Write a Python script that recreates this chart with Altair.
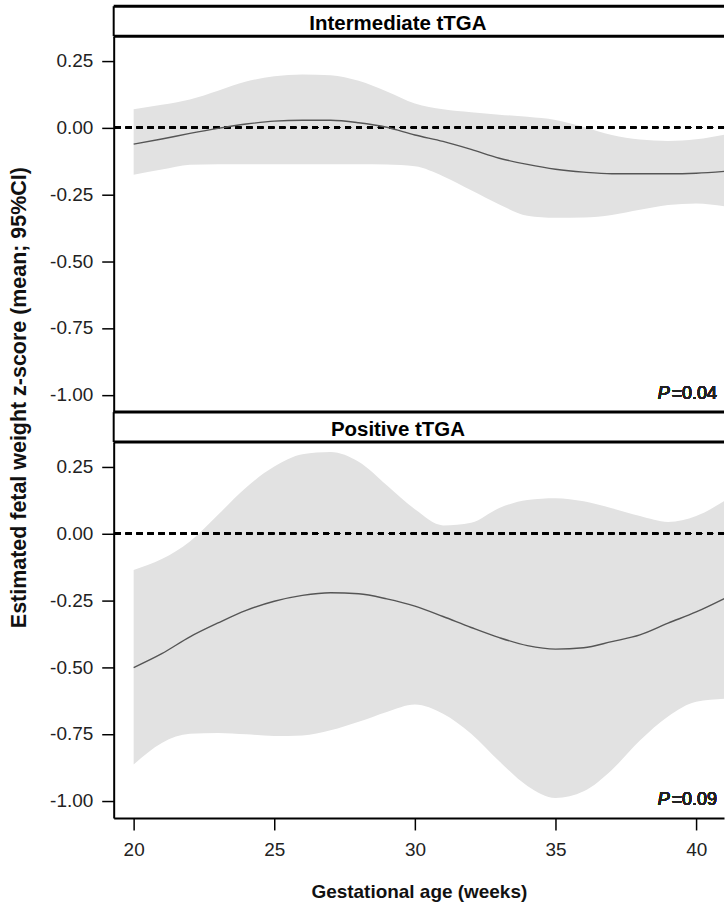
import altair as alt
import pandas as pd

# ---------------- data ----------------
weeks = list(range(20, 42))

inter_mean = [-0.062, -0.043, -0.022, -0.003, 0.013, 0.024, 0.027, 0.027, 0.018, 0.001, -0.028,
              -0.052, -0.082, -0.115, -0.138, -0.156, -0.167, -0.173, -0.173, -0.173, -0.171, -0.164]
inter_upper = [0.068, 0.085, 0.105, 0.138, 0.172, 0.192, 0.198, 0.196, 0.175, 0.135, 0.090,
               0.068, 0.057, 0.048, 0.040, 0.028, 0.002, -0.028, -0.045, -0.050, -0.044, -0.027]
inter_lower = [-0.177, -0.157, -0.139, -0.137, -0.137, -0.137, -0.137, -0.137, -0.137, -0.138, -0.145,
               -0.182, -0.235, -0.288, -0.330, -0.338, -0.337, -0.327, -0.308, -0.290, -0.284, -0.295]

pos_mean = [-0.502, -0.450, -0.387, -0.335, -0.288, -0.254, -0.232, -0.222, -0.226, -0.245, -0.272,
            -0.311, -0.352, -0.390, -0.420, -0.433, -0.428, -0.405, -0.380, -0.336, -0.294, -0.244]
pos_upper = [-0.137, -0.096, -0.030, 0.070, 0.172, 0.250, 0.296, 0.305, 0.268, 0.180, 0.090,
             0.030, 0.040, 0.095, 0.125, 0.132, 0.120, 0.094, 0.065, 0.043, 0.065, 0.121]
pos_lower = [-0.865, -0.784, -0.750, -0.747, -0.752, -0.758, -0.756, -0.737, -0.705, -0.668, -0.640,
             -0.675, -0.750, -0.853, -0.945, -0.990, -0.965, -0.885, -0.775, -0.685, -0.630, -0.619]

panel_titles = ["Intermediate tTGA", "Positive tTGA"]
p_values = ["=0.04", "=0.09"]
y_ticks = [-1.0, -0.75, -0.5, -0.25, 0.0, 0.25]
x_ticks = [20, 25, 30, 35, 40]
x_title = "Gestational age (weeks)"
y_title = "Estimated fetal weight z-score (mean; 95%CI)"

# ---------------- layout / style ----------------
FONT = "Liberation Sans"
W = 612
H_PANEL = 377
H_HEAD = 30
X_DOMAIN = [19.29, 40.99]
Y_DOMAIN = [-1.065, 0.342]
Y_LABEL_EXPR = "replace(format(datum.value, '.2f'), '\u2212', '-')"

x_scale = alt.Scale(domain=X_DOMAIN, nice=False, zero=False)
y_scale = alt.Scale(domain=Y_DOMAIN, nice=False, zero=False)


def header(title):
    base = alt.Chart(pd.DataFrame({"label": [title]}))
    top = base.mark_rule(color="black", strokeWidth=3).encode(
        x=alt.value(0), x2=alt.value(W), y=alt.value(0))
    bottom = base.mark_rule(color="black", strokeWidth=3).encode(
        x=alt.value(0), x2=alt.value(W), y=alt.value(H_HEAD))
    left = base.mark_rule(color="black", strokeWidth=2).encode(
        x=alt.value(0), y=alt.value(0), y2=alt.value(H_HEAD))
    text = base.mark_text(font=FONT, fontWeight="bold", fontSize=20.5, color="black",
                          align="center", baseline="alphabetic").encode(
        x=alt.value(285), y=alt.value(24), text="label:N")
    return alt.layer(top, bottom, left, text).properties(width=W, height=H_HEAD)


def panel(mean, lower, upper, p_text, bottom_panel):
    df = pd.DataFrame({"week": weeks, "mean": mean, "lower": lower, "upper": upper})
    base = alt.Chart(df)

    common_y = dict(values=y_ticks, labelExpr=Y_LABEL_EXPR, grid=False,
                    domain=True, domainColor="black", domainWidth=2,
                    tickSize=12, tickWidth=1.5, tickColor="black",
                    labelFont=FONT, labelFontSize=19, labelColor="#222", labelPadding=9)
    if bottom_panel:
        x_axis = alt.Axis(values=x_ticks, format="d", title=x_title, grid=False,
                          domain=True, domainColor="black", domainWidth=2,
                          ticks=True, tickSize=12, tickWidth=1.5, tickColor="black",
                          labelFont=FONT, labelFontSize=19, labelColor="#222", labelPadding=11,
                          titleFont=FONT, titleFontSize=19, titleFontWeight="bold",
                          titleColor="#111", titlePadding=23)
        y_axis = alt.Axis(title=None, **common_y)
    else:
        x_axis = None
        y_axis = alt.Axis(title=y_title,
                          titleFont=FONT, titleFontSize=21.5, titleFontWeight="bold",
                          titleColor="#111", titleAngle=270, titleAlign="center",
                          titleBaseline="middle", titleX=-94, titleY=362, **common_y)

    x_enc = alt.X("week:Q", scale=x_scale, axis=x_axis)

    band = base.mark_area(color="#e2e2e2", interpolate="monotone", clip=True).encode(
        x=x_enc,
        y=alt.Y("lower:Q", scale=y_scale, axis=y_axis),
        y2="upper:Q",
    )
    zero = base.mark_rule(color="black", strokeWidth=1.5, strokeDash=[6, 5]).encode(
        y=alt.datum(0))
    line = base.mark_line(color="#555555", strokeWidth=1.4, interpolate="monotone",
                          clip=True).encode(x=x_enc, y=alt.Y("mean:Q", scale=y_scale))
    p_letter = base.mark_text(font=FONT, fontSize=18, fontStyle="italic", color="#222",
                              align="right", baseline="alphabetic").encode(
        x=alt.value(W - 7 - 47.5), y=alt.value(364), text=alt.value("P"))
    p_rest = base.mark_text(font=FONT, fontSize=18, color="#222",
                            align="right", baseline="alphabetic").encode(
        x=alt.value(W - 7), y=alt.value(364), text=alt.value(p_text))
    return alt.layer(band, zero, line, p_letter, p_rest).properties(width=W, height=H_PANEL)


chart = alt.vconcat(
    header(panel_titles[0]),
    panel(inter_mean, inter_lower, inter_upper, p_values[0], False),
    header(panel_titles[1]),
    panel(pos_mean, pos_lower, pos_upper, p_values[1], True),
    spacing=0,
    bounds="flush",
).properties(
    padding={"left": 8, "top": 3, "right": 0, "bottom": 0},
    background="white",
).configure_view(stroke="transparent")

chart.save("out.html", embed_options={"renderer": "svg", "actions": False})
